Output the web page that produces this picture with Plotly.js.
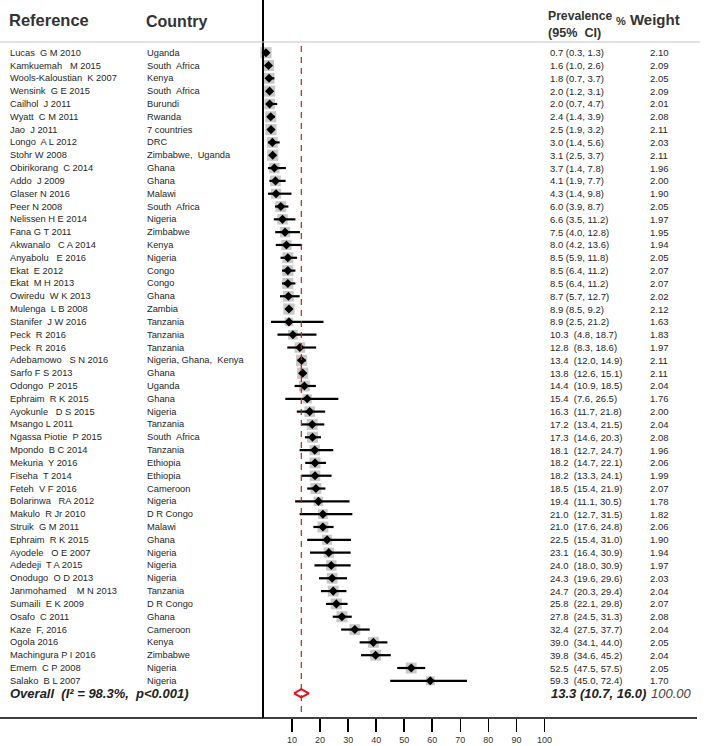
<!DOCTYPE html>
<html>
<head>
<meta charset="utf-8">
<script src="https://cdn.plot.ly/plotly-3.0.1.min.js"></script>
<style>html,body{margin:0;padding:0;background:#fff;}#chart{width:709px;height:746px;}</style>
</head>
<body>
<div id="chart"></div>
<script>
const studies = ["Lucas  G M 2010","Kamkuemah   M 2015","Wools-Kaloustian  K 2007","Wensink  G E 2015","Cailhol  J 2011","Wyatt  C M 2011","Jao  J 2011","Longo  A L 2012","Stohr W 2008","Obirikorang  C 2014","Addo  J 2009","Glaser N 2016","Peer N 2008","Nelissen H E 2014","Fana G T 2011","Akwanalo   C A 2014","Anyabolu   E 2016","Ekat  E 2012","Ekat  M H 2013","Owiredu  W K 2013","Mulenga  L B 2008","Stanifer  J W 2016","Peck  R 2016","Peck  R 2016","Adebamowo   S N 2016","Sarfo F S 2013","Odongo  P 2015","Ephraim  R K 2015","Ayokunle   D S 2015","Msango L 2011","Ngassa Piotie  P 2015","Mpondo  B C 2014","Mekuria  Y 2016","Fiseha  T 2014","Feteh  V F 2016","Bolarinwa   RA 2012","Makulo  R Jr 2010","Struik  G M 2011","Ephraim  R K 2015","Ayodele   O E 2007","Adedeji  T A 2015","Onodugo  O D 2013","Janmohamed    M N 2013","Sumaili  E K 2009","Osafo  C 2011","Kaze  F, 2016","Ogola 2016","Machingura P I 2016","Emem  C P 2008","Salako  B L 2007"];
const countries = ["Uganda","South  Africa","Kenya","South  Africa","Burundi","Rwanda","7 countries","DRC","Zimbabwe,  Uganda","Ghana","Ghana","Malawi","South  Africa","Nigeria","Zimbabwe","Kenya","Nigeria","Congo","Congo","Ghana","Zambia","Tanzania","Tanzania","Tanzania","Nigeria, Ghana,  Kenya","Ghana","Uganda","Ghana","Nigeria","Tanzania","South  Africa","Tanzania","Ethiopia","Ethiopia","Cameroon","Nigeria","D R Congo","Malawi","Ghana","Nigeria","Nigeria","Nigeria","Tanzania","D R Congo","Ghana","Cameroon","Kenya","Zimbabwe","Nigeria","Nigeria"];
const estimates = [0.7,1.6,1.8,2.0,2.0,2.4,2.5,3.0,3.1,3.7,4.1,4.3,6.0,6.6,7.5,8.0,8.5,8.5,8.5,8.7,8.9,8.9,10.3,12.8,13.4,13.8,14.4,15.4,16.3,17.2,17.3,18.1,18.2,18.2,18.5,19.4,21.0,21.0,22.5,23.1,24.0,24.3,24.7,25.8,27.8,32.4,39.0,39.8,52.5,59.3];
const lowerCI = [0.3,1.0,0.7,1.2,0.7,1.4,1.9,1.4,2.5,1.4,1.9,1.4,3.9,3.5,4.0,4.2,5.9,6.4,6.4,5.7,8.5,2.5,4.8,8.3,12.0,12.6,10.9,7.6,11.7,13.4,14.6,12.7,14.7,13.3,15.4,11.1,12.7,17.6,15.4,16.4,18.0,19.6,20.3,22.1,24.5,27.5,34.1,34.6,47.5,45.0];
const upperCI = [1.3,2.6,3.7,3.1,4.7,3.9,3.2,5.6,3.7,7.8,7.7,9.8,8.7,11.2,12.8,13.6,11.8,11.2,11.2,12.7,9.2,21.2,18.7,18.6,14.9,15.1,18.5,26.5,21.8,21.5,20.3,24.7,22.1,24.1,21.9,30.5,31.5,24.8,31.0,30.9,30.9,29.6,29.4,29.8,31.3,37.7,44.0,45.2,57.5,72.4];
const weights = [2.10,2.09,2.05,2.09,2.01,2.08,2.11,2.03,2.11,1.96,2.00,1.90,2.05,1.97,1.95,1.94,2.05,2.07,2.07,2.02,2.12,1.63,1.83,1.97,2.11,2.11,2.04,1.76,2.00,2.04,2.08,1.96,2.06,1.99,2.07,1.78,1.82,2.06,1.90,1.94,1.97,2.03,2.04,2.07,2.08,2.04,2.05,2.04,2.05,1.70];
const overallLabel = "Overall  (I² = 98.3%,  p<0.001)";
const overallEst = 13.3;
const overallLower = 10.7;
const overallUpper = 16.0;
const overallWeight = 100.00;
const tickValues = [10,20,30,40,50,60,70,80,90,100];

const W = 709, H = 746;
const px = v => v / W;
const py = v => 1 - v / H;
const rows = studies.map((_, i) => i + 1);
const overallRow = studies.length + 0.97;
const font = "Arial, 'Liberation Sans', sans-serif";

// CI lines
const ciX = [], ciY = [];
rows.forEach((r, i) => { ciX.push(lowerCI[i], upperCI[i], null); ciY.push(r, r, null); });

const traces = [
  {type:'scatter', mode:'markers', x:estimates, y:rows, cliponaxis:false, hoverinfo:'skip',
   marker:{symbol:'square', size:weights.map(w => w * 5.3), color:'#b0b0b0', line:{width:0}}},
  {type:'scatter', mode:'lines', x:ciX, y:ciY, cliponaxis:false, hoverinfo:'skip',
   line:{color:'#000', width:2.2}},
  {type:'scatter', mode:'markers', x:estimates, y:rows, cliponaxis:false, hoverinfo:'skip',
   marker:{symbol:'diamond', size:7, color:'#000'}},
  {type:'scatter', mode:'lines', cliponaxis:false, hoverinfo:'skip',
   x:[overallLower, overallEst, overallUpper, overallEst, overallLower],
   y:[overallRow, overallRow - 0.32, overallRow, overallRow + 0.32, overallRow],
   line:{color:'#e8101a', width:2}, fill:'toself', fillcolor:'rgba(255,255,255,1)'}
];

const ann = [];
const addText = (text, x, y, size, opts) => ann.push(Object.assign({
  text:text, x:x, y:y, xref:'paper', yref:'y', xanchor:'left', yanchor:'middle', showarrow:false,
  font:{family:font, size:size, color:'#262626'}}, opts || {}));

rows.forEach((r, i) => {
  addText(studies[i], px(8), r, 9.3);
  addText(countries[i], px(145), r, 9.3);
  const e = estimates[i].toFixed(1);
  const sep = estimates[i] >= 10 ? '  ' : ' ';
  addText(e + sep + '(' + lowerCI[i].toFixed(1) + ', ' + upperCI[i].toFixed(1) + ')', px(548), r, 9.5);
  addText(weights[i].toFixed(2), px(648), r, 9.5);
});
// overall row
addText('<b><i>' + overallLabel + '</i></b>', px(8), overallRow, 13, {font:{family:font, size:13, color:'#222'}});
addText('<b><i>' + overallEst.toFixed(1) + ' (' + overallLower.toFixed(1) + ', ' + overallUpper.toFixed(1) + ')</i></b>', px(549), overallRow, 13, {font:{family:font, size:13, color:'#222'}});
addText('<i>' + overallWeight.toFixed(2) + '</i>', px(649), overallRow, 13, {font:{family:font, size:13, color:'#444'}});

// headers
const hdr = (text, x, y, size) => ann.push({text:text, x:px(x), y:py(y), xref:'paper', yref:'paper',
  xanchor:'left', yanchor:'middle', showarrow:false, font:{family:font, size:size, color:'#333', weight:700}});
hdr('Reference', 7, 20, 16.5);
hdr('Country', 144, 21, 16);
hdr('Prevalence', 546, 16, 12.2);
hdr('(95%  CI)', 546, 33, 12.6);
hdr('<span style="font-size:11px">%</span> Weight', 614, 19, 15);

const shapes = [
  {type:'line', xref:'paper', yref:'paper', x0:0, x1:px(700), y0:py(42), y1:py(42), line:{color:'#c4c4c4', width:1.2}},
  {type:'line', xref:'paper', yref:'paper', x0:0, x1:px(697), y0:py(718), y1:py(718), line:{color:'#000', width:1.6}},
  {type:'line', xref:'x', yref:'paper', x0:overallEst, x1:overallEst, y0:py(46), y1:py(716), line:{color:'#b8222a', width:1.2, dash:'6px,5px'}}
];

const layout = {
  width:W, height:H, margin:{l:0, r:0, t:0, b:0}, paper_bgcolor:'#fff', plot_bgcolor:'#fff',
  showlegend:false, hovermode:false,
  xaxis:{domain:[px(264), px(697)], range:[0, 154.4], tickvals:tickValues, ticktext:tickValues.map(String),
    ticks:'outside', ticklen:13, tickwidth:1.6, tickcolor:'#000', showgrid:false, zeroline:false, showline:false,
    tickfont:{family:font, size:9, color:'#333'}, fixedrange:true},
  yaxis:{domain:[1 - 718 / H, 1], range:[52.9, -3.11], showticklabels:false, ticks:'', showgrid:false,
    zeroline:false, showline:true, linecolor:'#000', linewidth:2.4, fixedrange:true},
  annotations:ann, shapes:shapes
};

Plotly.newPlot('chart', traces, layout, {displayModeBar:false, staticPlot:true});
</script>
</body>
</html>
